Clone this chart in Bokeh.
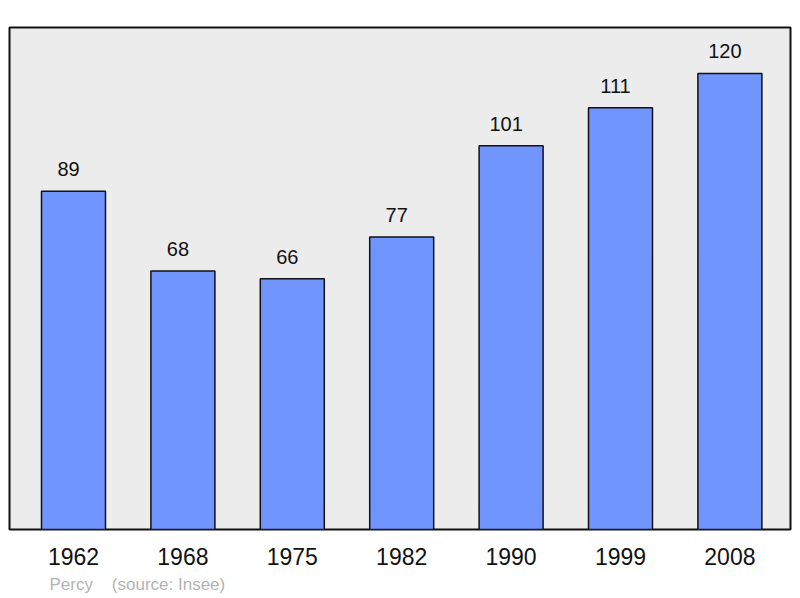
from bokeh.plotting import figure
from bokeh.models import ColumnDataSource, FixedTicker, Title, Range1d
from bokeh.core.properties import value
from bokeh.embed import file_html
from bokeh.resources import INLINE

years = ["1962", "1968", "1975", "1982", "1990", "1999", "2008"]
population = [89, 68, 66, 77, 101, 111, 120]
commune = "Percy"
source_note = "(source: Insee)"

idx = list(range(len(years)))
src = ColumnDataSource(dict(x=idx, top=population, lbl=[str(v) for v in population]))

p = figure(width=800, height=598, output_backend="svg", toolbar_location=None,
           x_range=Range1d(-0.585, 6.554), y_range=Range1d(0, 132.1),
           min_border_left=9, min_border_right=10, min_border_top=27, min_border_bottom=69)

p.background_fill_color = "#ececec"
p.border_fill_color = "white"
p.outline_line_color = "#111111"
p.outline_line_width = 2
p.grid.visible = False
p.yaxis.visible = False

p.vbar(x="x", top="top", bottom=0, width=0.585, source=src,
       fill_color="#7095ff", line_color="#111111", line_width=1.5)

p.text(x="x", y="top", text="lbl", source=src, text_align="center",
       text_baseline="alphabetic", x_offset=-5, y_offset=-22,
       text_font=value("Liberation Sans"),
       text_font_size="20px", text_color="#111111")

xa = p.xaxis[0]
xa.ticker = FixedTicker(ticks=idx)
xa.major_label_overrides = {i: y for i, y in zip(idx, years)}
xa.axis_line_color = None
xa.major_tick_line_color = None
xa.minor_tick_line_color = None
xa.major_tick_out = 0
xa.major_label_standoff = 18
xa.major_label_text_font = "Liberation Sans"
xa.major_label_text_font_size = "23px"
xa.major_label_text_color = "#111111"

note = Title(text=commune + "\u00a0\u00a0\u00a0\u00a0" + source_note, align="left", offset=40,
             text_font="Liberation Sans", text_font_size="17px",
             text_font_style="normal", text_color="#b3b3b3", standoff=10)
p.add_layout(note, "below")

open("out.html", "w").write(file_html(p, INLINE))
